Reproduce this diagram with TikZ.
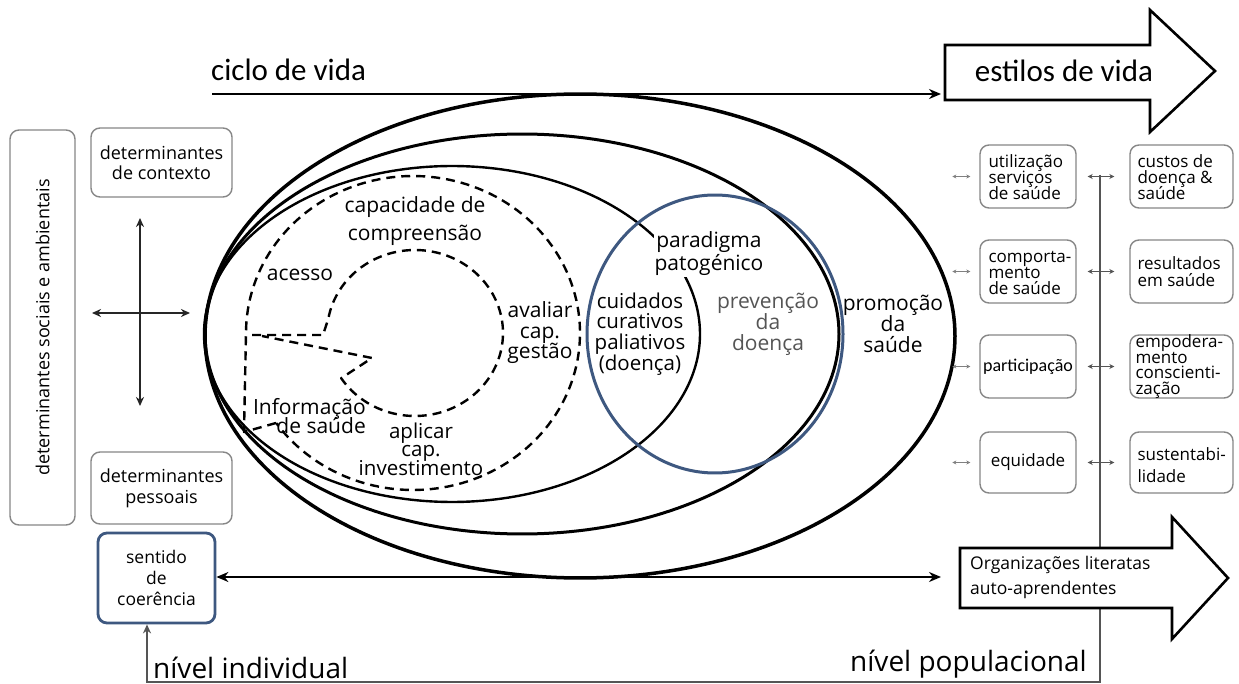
\documentclass[tikz,border=0pt]{standalone}
\usepackage{fontspec}
\setmainfont{Open Sans}
\newfontfamily\calfont{Carlito}
\usetikzlibrary{arrows.meta}
\definecolor{bluec}{RGB}{62,88,128}
\definecolor{boxgray}{RGB}{135,135,135}
\definecolor{linegray}{RGB}{85,85,85}
\definecolor{txtgray}{RGB}{85,85,85}
\newcommand{\fsz}[2]{\fontsize{#1}{#2}\selectfont\lineskiplimit=-100pt\lineskip=0pt}
\tikzset{
  gbox/.style={draw=boxgray, line width=1.4pt, rounded corners=9pt, align=center, inner sep=2pt},
  btxt/.style={align=left, anchor=west, inner sep=0pt, font=\fsz{17}{16}},
  inner/.style={align=center, inner sep=1pt, font=\fsz{21}{21}},
  smallarr/.style={{Stealth[length=4pt,width=4pt]}-{Stealth[length=4pt,width=4pt]}, line width=0.9pt, draw=gray},
  midarr/.style={{Stealth[length=5pt,width=5pt]}-{Stealth[length=5pt,width=5pt]}, line width=1.2pt, draw=linegray},
  bigarr/.style={draw=black, line width=2.6pt, fill=white, line join=miter},
  ell/.style={line join=round},
}
\begin{document}
\begin{tikzpicture}[x=1pt,y=-1pt]
\useasboundingbox (0,0) rectangle (1239,684);
\fill[white] (0,0) rectangle (1239,684);

% ---- ellipses
\draw[ell, line width=3.5pt] plot[domain=0:360,samples=240] ({580+375*cos(\x)},{336+242*sin(\x)}) -- cycle;
\draw[ell, line width=3pt] plot[domain=0:360,samples=240] ({522+317*cos(\x)},{334+200*sin(\x)}) -- cycle;
\draw[ell, line width=2.4pt] plot[domain=0:360,samples=240] ({452+248*cos(\x)},{334+168*sin(\x)}) -- cycle;

% ---- dashed shapes
\begin{scope}[line width=2.4pt, dash pattern=on 9pt off 6pt, line join=round]
\draw (276,423) -- (244,432) -- plot[domain=-180:145,samples=150] ({413+167*cos(\x)},{333+157*sin(\x)});
\draw (252,335) -- (323,335) -- plot[domain=190:507,samples=120] ({415+88*cos(\x)},{333+83*sin(\x)}) -- (372,358) -- (262,336);
\end{scope}

% ---- texts inside
\node[inner, font=\fsz{21}{28}] (cap) at (415,221) {capacidade de\\compreensão};
\node[inner] (ace) at (300,275) {acesso};
\node[inner, font=\fsz{21}{20.5}] (ava) at (540,333) {avaliar\\cap.\\gestão};
\node[inner, align=right, font=\fsz{21}{19}, anchor=east] (inf) at (367,416) {Informação\\de saúde};
\node[inner, font=\fsz{20.5}{18.5}] (apl) at (421,449) {aplicar\\cap.\\investimento};
\node[inner, fill=white, font=\fsz{21}{23}] (par) at (709,254) {paradigma\\patogénico};
\node[inner, font=\fsz{20.5}{20.7}] (cui) at (640,334) {cuidados\\curativos\\paliativos\\(doença)};
\node[inner, text=txtgray] (pre) at (768,324) {prevenção\\da\\doença};
\node[inner] (pro) at (893,324) {promoção\\da\\saúde};

% ---- blue circle
\draw[ell, bluec, line width=3pt] plot[domain=0:360,samples=240] ({715+128*cos(\x)},{334+139*sin(\x)}) -- cycle;

% ---- left side
\node[gbox, minimum width=395pt, minimum height=65pt, rotate=90, font=\fsz{18}{20}] (soc) at (42.5,327.5) {determinantes sociais e ambientais};
\node[gbox, minimum width=141pt, minimum height=69pt, font=\fsz{18}{20}] (ctx) at (161.5,162.5) {determinantes\\de contexto};
\node[gbox, minimum width=141pt, minimum height=72pt, font=\fsz{18}{21}] (pes) at (161.5,488) {determinantes\\pessoais};
\node[gbox, draw=bluec, line width=2.8pt, minimum width=117pt, minimum height=90pt, font=\fsz{17.5}{21}] (sen) at (156.5,578) {sentido\\de\\coerência};

\coordinate (vt) at (140,218);
\coordinate (vb) at (140,406);
\coordinate (hl) at (92,313);
\coordinate (hr) at (190,313);
\draw[{Stealth[length=9pt,width=8pt]}-{Stealth[length=9pt,width=8pt]}, line width=1.8pt, draw=black!85] (vt) -- (vb);
\draw[{Stealth[length=9pt,width=8pt]}-{Stealth[length=9pt,width=8pt]}, line width=1.8pt, draw=black!85] (hl) -- (hr);

% ---- right boxes (frames)
\node[gbox, minimum width=96pt, minimum height=63pt] (u1) at (1028,176.5) {};
\node[gbox, minimum width=96pt, minimum height=63pt] (u2) at (1028,271.5) {};
\node[gbox, minimum width=96pt, minimum height=63pt, font=\calfont\fsz{18}{18}] (u3) at (1028,366.5) {participação};
\node[gbox, minimum width=96pt, minimum height=61pt, font=\fsz{17}{17}] (u4) at (1028,462.5) {equidade};
\node[gbox, minimum width=103pt, minimum height=63pt] (c1) at (1181.5,176.5) {};
\node[gbox, minimum width=103pt, minimum height=63pt] (c2) at (1181.5,271.5) {};
\node[gbox, minimum width=103pt, minimum height=63pt] (c3) at (1181.5,366.5) {};
\node[gbox, minimum width=103pt, minimum height=61pt] (c4) at (1181.5,462.5) {};

% ---- right boxes (texts)
\node[btxt] (u1t) at ([xshift=9pt,yshift=-1pt]u1.west) {utilização\\serviços\\de saúde};
\node[btxt] (u2t) at ([xshift=9pt,yshift=-1pt]u2.west) {comporta-\\mento\\de saúde};
\node[btxt] (c1t) at ([xshift=8pt,yshift=-1pt]c1.west) {custos de\\doença \&\\saúde};
\node[btxt, font=\fsz{17}{17}] (c2t) at ([xshift=8pt]c2.west) {resultados\\em saúde};
\node[btxt, font=\fsz{17}{15.5}] (c3t) at ([xshift=6pt]c3.west) {empodera-\\mento\\conscienti-\\zação};
\node[btxt, font=\fsz{17}{22}] (c4t) at ([xshift=8pt,yshift=-3pt]c4.west) {sustentabi-\\lidade};

\foreach \n in {u1,u2,u3,u4}{
  \draw[smallarr] ([xshift=-27pt]\n.west) -- ([xshift=-9pt]\n.west);
}
\draw[midarr] ([xshift=11pt]u1.east) -- ([xshift=-15pt]c1.west);
\draw[midarr] ([xshift=11pt]u2.east) -- ([xshift=-15pt]c2.west);
\draw[midarr] ([xshift=11pt]u3.east) -- ([xshift=-15pt]c3.west);
\draw[midarr] ([xshift=11pt]u4.east) -- ([xshift=-15pt]c4.west);

% ---- population line back to sentido de coerência
\coordinate (ptop) at (1100,175);
\coordinate (pbot) at (1100,682);
\coordinate (pleft) at (147,682);
\draw[line width=1.8pt, draw=linegray, -{Stealth[length=9pt,width=8pt]}] (ptop) -- (pbot) -- (pleft) -- ([xshift=-9.5pt]sen.south);

% ---- top arrow: ciclo de vida
\node[font=\calfont\fsz{31}{31}, anchor=west, inner sep=0pt] (cic) at (211,70) {ciclo de vida};
\coordinate (cv0) at (212,94);
\coordinate (cv1) at (941,94);
\draw[line width=2.8pt, -{Stealth[length=12pt,width=10pt]}] (cv0) -- (cv1);

\draw[bigarr] (945,45) -- (1150,45) -- (1150,10) -- (1215,71) -- (1150,132) -- (1150,100) -- (945,100) -- cycle;
\node[font=\calfont\fsz{31}{31}, inner sep=0pt] (est) at (1064,71) {estilos de vida};

% ---- bottom arrow
\draw[bigarr] (960,548) -- (1172,548) -- (1172,517) -- (1228,578) -- (1172,639) -- (1172,608) -- (960,608) -- cycle;
\node[font=\fsz{17.5}{25}, align=left, anchor=west, inner sep=0pt] (org) at (970,577) {Organizações literatas\\auto-aprendentes};
\coordinate (ob) at (941,577);
\draw[line width=2.8pt, {Stealth[length=12pt,width=10pt]}-{Stealth[length=12pt,width=10pt]}] (sen.east |- ob) -- (ob);

% ---- level labels
\node[font=\fsz{28}{28}, anchor=west, inner sep=0pt] (ind) at (153,668) {nível individual};
\node[font=\fsz{28}{28}, anchor=east, inner sep=0pt] (pop) at (1087,664) {nível populacional};
\end{tikzpicture}
\end{document}
